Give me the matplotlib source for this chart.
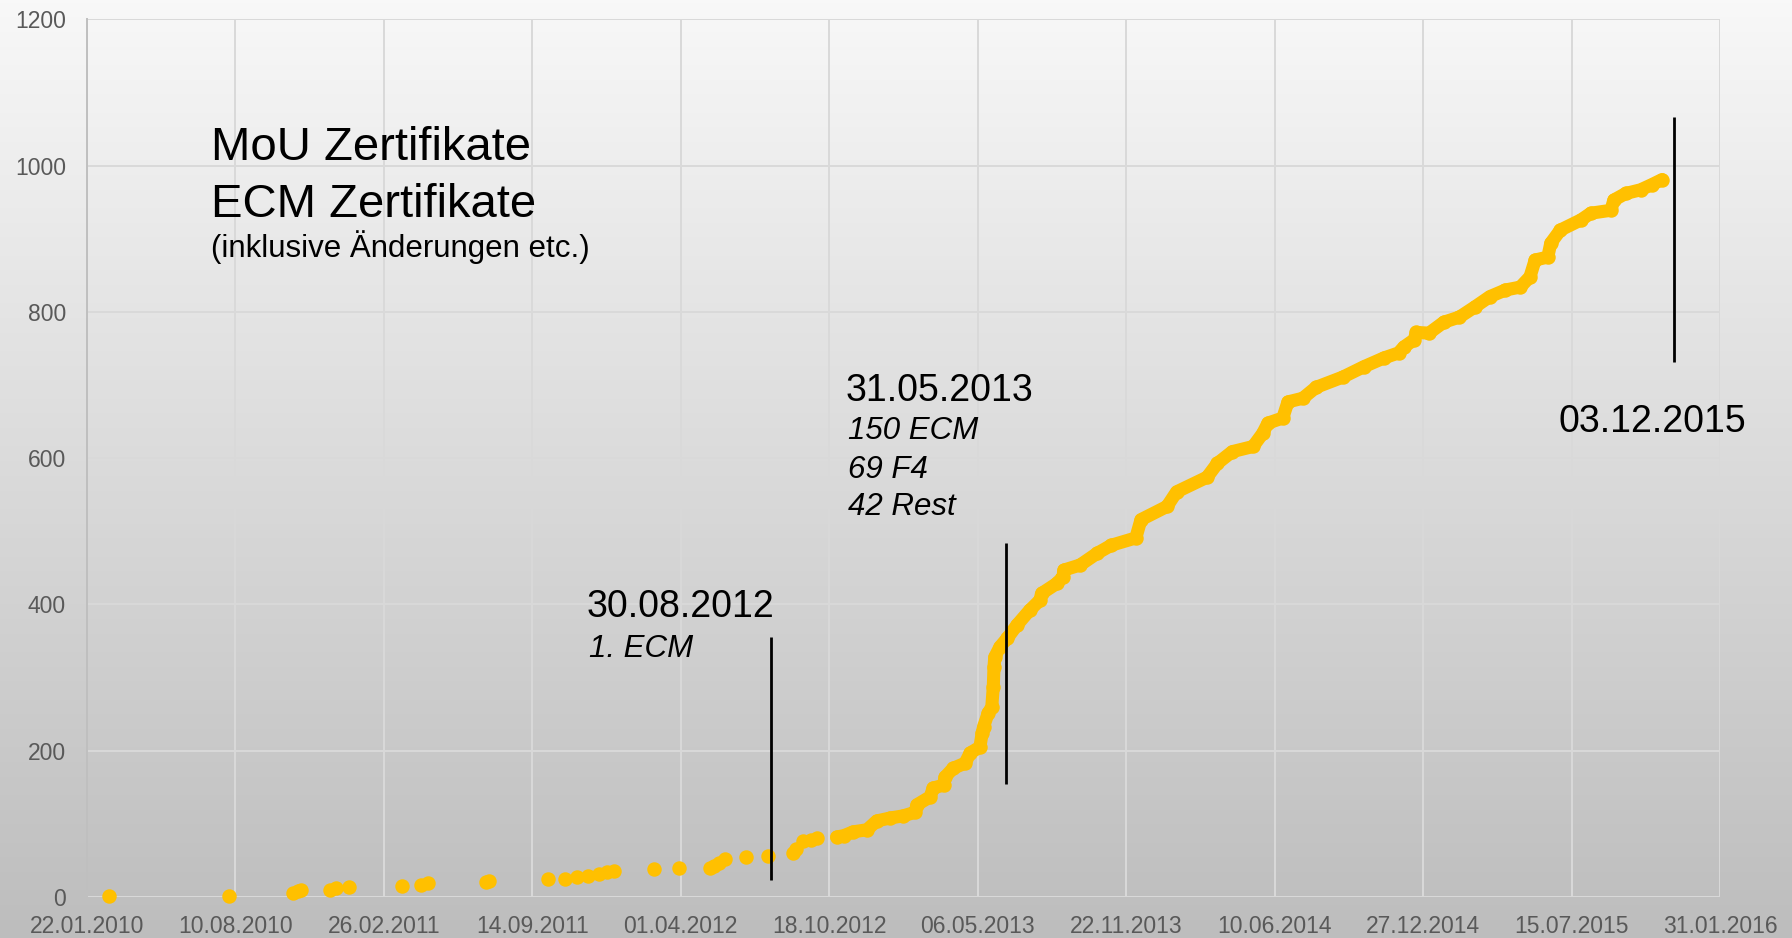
import matplotlib
matplotlib.use("Agg")
import matplotlib.pyplot as plt
import matplotlib.dates as mdates
import numpy as np
import pandas as pd

plt.rcParams['font.family'] = ['Liberation Sans', 'DejaVu Sans']

# early, sparse certificates (single dots)
sparse_dates = ['2010-02-21', '2010-08-01', '2010-10-27', '2010-11-02', '2010-11-07',
                '2010-12-16', '2010-12-23', '2011-01-10', '2011-03-22', '2011-04-17',
                '2011-04-27', '2011-07-13', '2011-07-18', '2011-10-05', '2011-10-28',
                '2011-11-13', '2011-11-28', '2011-12-13', '2011-12-23', '2012-01-02',
                '2012-02-25', '2012-03-29', '2012-05-10', '2012-05-16', '2012-05-23',
                '2012-05-30', '2012-06-28', '2012-07-27', '2012-08-30', '2012-09-03',
                '2012-09-13', '2012-09-23', '2012-10-01']
sparse_counts = [1, 2, 6, 8, 9, 10, 12, 14, 15, 17, 19, 20, 22, 24, 25, 27, 29, 31, 34, 36,
                 38, 39, 40, 42, 47, 52, 55, 56, 60, 66, 76, 78, 80]

# dense part of the cumulative curve
dense_dates = ['2012-10-28', '2012-11-07', '2012-11-19', '2012-12-08', '2012-12-21',
               '2013-01-08', '2013-01-26', '2013-02-11', '2013-02-13', '2013-03-03',
               '2013-03-07', '2013-03-21', '2013-03-23', '2013-04-03', '2013-04-19',
               '2013-04-26', '2013-05-09', '2013-05-12', '2013-05-14', '2013-05-20',
               '2013-05-25', '2013-05-27', '2013-05-28', '2013-05-29', '2013-06-05',
               '2013-06-15', '2013-06-28', '2013-07-15', '2013-07-29', '2013-07-31',
               '2013-08-21', '2013-08-29', '2013-08-30', '2013-09-21', '2013-10-14',
               '2013-11-02', '2013-12-05', '2013-12-12', '2014-01-16', '2014-01-29',
               '2014-03-11', '2014-03-25', '2014-04-14', '2014-05-12', '2014-05-25',
               '2014-06-01', '2014-06-21', '2014-06-28', '2014-07-18', '2014-08-05',
               '2014-09-10', '2014-10-08', '2014-11-04', '2014-11-24', '2014-12-01',
               '2014-12-15', '2014-12-18', '2015-01-04', '2015-01-24', '2015-02-14',
               '2015-03-07', '2015-03-27', '2015-04-17', '2015-05-07', '2015-05-20',
               '2015-05-27', '2015-06-13', '2015-06-17', '2015-06-30', '2015-07-28',
               '2015-08-10', '2015-09-06', '2015-09-10', '2015-09-26', '2015-10-16',
               '2015-10-31', '2015-11-14']
dense_counts = [82, 84, 89, 92, 104, 108, 111, 116, 126, 137, 149, 153, 164, 176, 183, 197,
                205, 224, 233, 251, 260, 287, 315, 328, 342, 354, 372, 392, 406, 415, 429,
                438, 447, 454, 470, 481, 491, 516, 534, 554, 574, 593, 609, 616, 634, 648,
                655, 677, 682, 697, 711, 725, 737, 744, 752, 762, 772, 771, 786, 793, 807,
                821, 830, 834, 848, 871, 875, 894, 912, 926, 935, 939, 953, 962, 967, 974,
                981]

# vertical marker lines
marker_dates = ['2012-07-31', '2013-06-13', '2015-11-30']
marker_low = [23, 155, 731]
marker_high = [355, 484, 1066]

tick_dates = pd.date_range('2010-01-22', periods=12, freq='200D')
y_ticks = [0, 200, 400, 600, 800, 1000, 1200]

YELLOW = '#FFC000'
W, H = 1792, 938

fig = plt.figure(figsize=(W / 100, H / 100), dpi=100)

# grey gradient behind everything
bg = fig.add_axes([0, 0, 1, 1], zorder=0)
grad = np.linspace(0, 1, 256).reshape(-1, 1)
top, bottom = np.array([248, 248, 248]) / 255, np.array([189, 189, 189]) / 255
img = top + (bottom - top) * grad[..., None]
bg.imshow(img.reshape(256, 1, 3), aspect='auto', extent=[0, 1, 0, 1])
bg.axis('off')

ax = fig.add_axes([86.9 / W, 1 - 897 / H, (1720 - 86.9) / W, (897 - 19.4) / H], zorder=1)
ax.patch.set_alpha(0)

sx = pd.to_datetime(sparse_dates)
dx = pd.to_datetime(dense_dates)
ax.plot(sx, sparse_counts, 'o', color=YELLOW, ms=9.4, mec=YELLOW, zorder=3, clip_on=False)
ax.plot(dx, dense_counts, '-o', color=YELLOW, lw=9.4, ms=9.4, mec=YELLOW,
        solid_capstyle='round', solid_joinstyle='round', zorder=3, clip_on=False)

ax.vlines(pd.to_datetime(marker_dates), marker_low, marker_high, color='black', lw=2.0, zorder=4)

ax.set_xlim(tick_dates[0], tick_dates[-1])
ax.set_ylim(0, 1200)
ax.set_xticks(tick_dates)
ax.xaxis.set_major_formatter(mdates.DateFormatter('%d.%m.%Y'))
ax.set_yticks(y_ticks)
ax.tick_params(length=0, labelsize=16.5, labelcolor='#595959')
ax.tick_params(axis='x', pad=13)
ax.tick_params(axis='y', pad=15)
ax.grid(True, color='#D9D9D9', lw=1.4, zorder=1)
ax.set_axisbelow(True)
for s in ['top', 'right', 'bottom']:
    ax.spines[s].set_visible(False)
ax.spines['left'].set_color('#BFBFBF')
ax.spines['left'].set_linewidth(1.4)


def ftext(x, y, s, size, style='normal'):
    fig.text(x / W, 1 - y / H, s, fontsize=size, style=style, va='baseline', ha='left',
             color='black', zorder=5)


ftext(211, 160, 'MoU Zertifikate', 34)
ftext(211, 217, 'ECM Zertifikate', 34)
ftext(211, 257, '(inklusive Änderungen etc.)', 22.5)
ftext(587, 617, '30.08.2012', 27)
ftext(589, 657, '1. ECM', 22.5, 'italic')
ftext(846, 401, '31.05.2013', 27)
ftext(848, 439, '150 ECM', 22.5, 'italic')
ftext(848, 478, '69 F4', 22.5, 'italic')
ftext(848, 515, '42 Rest', 22.5, 'italic')
ftext(1558, 432, '03.12.2015', 27)

fig.savefig('out.png', dpi=100)
